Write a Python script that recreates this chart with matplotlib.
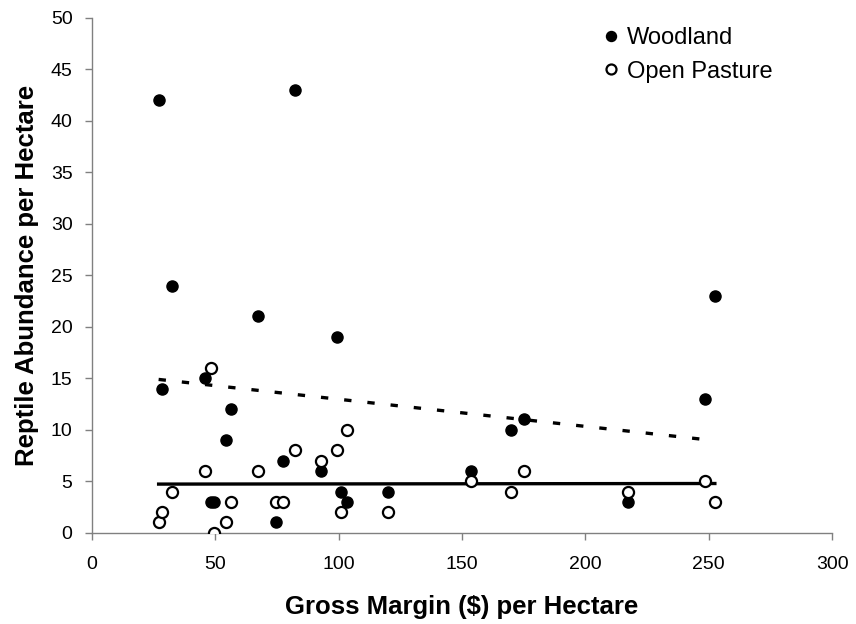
import numpy as np
import matplotlib
matplotlib.use("Agg")
import matplotlib.pyplot as plt

plt.rcParams['font.family'] = ['Liberation Sans', 'DejaVu Sans']

# Gross margin ($) per hectare for each site
gross_margin = [27, 28.5, 32.4, 45.8, 48.3, 49.3, 54.4, 56.2, 67.1, 74.7, 77.5,
                82.2, 93, 99.5, 101.1, 103.4, 120, 153.8, 169.7, 175.3, 217.1,
                248.5, 252.5]
woodland = [42, 14, 24, 15, 3, 3, 9, 12, 21, 1, 7,
            43, 6, 19, 4, 3, 4, 6, 10, 11, 3,
            13, 23]
open_pasture = [1, 2, 4, 6, 16, 0, 1, 3, 6, 3, 3,
                8, 7, 8, 2, 10, 2, 5, 4, 6, 4,
                5, 3]

x_ticks = [0, 50, 100, 150, 200, 250, 300]
y_ticks = [0, 5, 10, 15, 20, 25, 30, 35, 40, 45, 50]

fig = plt.figure(figsize=(8.56, 6.24), dpi=100)
ax = fig.add_axes([0.1075, 0.1463, 0.8645, 0.8253])

x = np.array(gross_margin)
w = np.array(woodland)
o = np.array(open_pasture)

ax.plot(x, w, 'o', color='black', markersize=8, label='Woodland', zorder=3)
ax.plot(x, o, 'o', markerfacecolor='white', markeredgecolor='black',
        markeredgewidth=1.6, markersize=8, label='Open Pasture', zorder=3)

xs = np.array([x.min(), x.max()])
pw = np.polyfit(x, w, 1)
po = np.polyfit(x, o, 1)
ax.plot(xs, np.polyval(pw, xs), color='black', lw=2.4,
        linestyle=(0, (2.2, 4.8)), zorder=2)
ax.plot(xs, np.polyval(po, xs), color='black', lw=2.4, zorder=2)

ax.set_xlim(0, 300)
ax.set_ylim(0, 50)
ax.set_xticks(x_ticks)
ax.set_yticks(y_ticks)
ax.tick_params(axis='both', direction='out', length=5, width=1,
               color='#808080', labelsize=14)
ax.tick_params(axis='x', pad=12)
ax.tick_params(axis='y', pad=9)

for s in ['top', 'right']:
    ax.spines[s].set_visible(False)
for s in ['left', 'bottom']:
    ax.spines[s].set_color('#808080')
    ax.spines[s].set_linewidth(1)

ax.set_xlabel('Gross Margin ($) per Hectare', fontsize=18.5, fontweight='bold')
ax.set_ylabel('Reptile Abundance per Hectare', fontsize=18.5, fontweight='bold')
ax.xaxis.set_label_coords(0.5, -0.12)
ax.yaxis.set_label_coords(-0.071, 0.5)

leg = ax.legend(loc='upper left', bbox_to_anchor=(0.689, 0.9816), frameon=False,
                fontsize=17, handlelength=0.8, handletextpad=0.28,
                labelspacing=0.48, markerscale=0.9, borderaxespad=0.0,
                borderpad=0.0)

fig.savefig('out.png', dpi=100)
